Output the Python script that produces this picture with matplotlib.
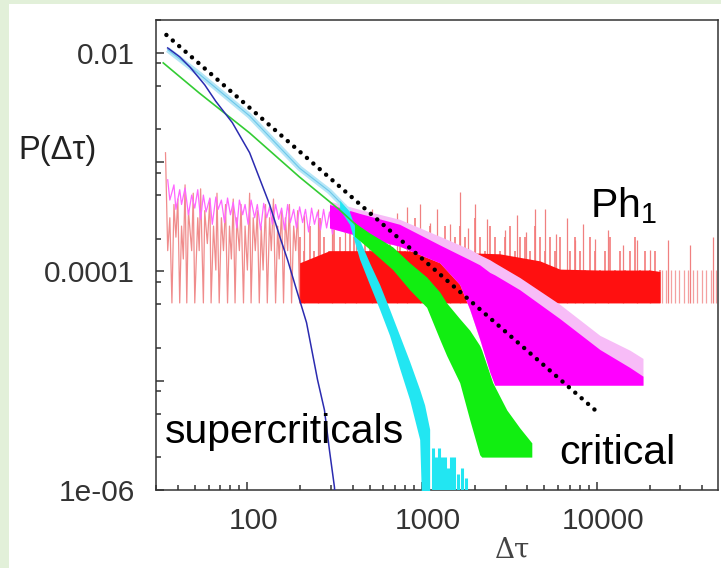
import numpy as np
import matplotlib
matplotlib.use("Agg")
import matplotlib.pyplot as plt
import matplotlib.transforms as mtransforms
from matplotlib.patches import Rectangle
from matplotlib.ticker import FixedLocator, LogLocator, FuncFormatter, NullFormatter

plt.rcParams['font.family'] = ['Liberation Sans', 'DejaVu Sans']
plt.rcParams['mathtext.fontset'] = 'custom'
plt.rcParams['mathtext.rm'] = 'Liberation Sans'
plt.rcParams['mathtext.it'] = 'Liberation Sans:italic'

# ---- data ----
# Ph1 (red): sparse zigzag on the left, dense band with spikes, sparse tail
red_floor = 5.15e-5
red_left_x = [34, 35, 36, 37, 38, 39, 40, 41, 42, 43, 44, 45, 46, 48, 49, 50, 52, 53, 54, 56,
              57, 59, 61, 62, 64, 66, 67, 69, 71, 73, 75, 77, 79, 81, 83, 85, 87, 90, 92, 95,
              97, 100, 103, 105, 108, 111, 114, 117, 120, 123, 127, 130, 134, 137, 141, 145,
              149, 152, 157, 161, 165, 170, 174, 179, 184, 189, 194, 199]
red_left_y = [1.22e-3, 1.55e-4, 3.1e-4, 5.15e-5, 4.1e-4, 2.06e-4, 4.6e-4, 5.15e-5,
              2.6e-4, 1.3e-4, 6.2e-4, 5.15e-5, 3.6e-4, 1.55e-4, 5.2e-4, 5.15e-5,
              3.1e-4, 1.55e-4, 5.7e-4, 5.15e-5, 3.6e-4, 1.8e-4, 4.6e-4, 5.15e-5,
              2.6e-4, 1.03e-4, 5.2e-4, 5.15e-5, 3.1e-4, 1.55e-4, 4.1e-4, 5.15e-5,
              2.6e-4, 1.3e-4, 4.6e-4, 5.15e-5, 3.1e-4, 1.55e-4, 4.1e-4, 5.15e-5,
              2.6e-4, 1.03e-4, 5.2e-4, 5.15e-5, 3.1e-4, 1.55e-4, 3.6e-4, 5.15e-5,
              2.6e-4, 1.03e-4, 4.1e-4, 5.15e-5, 3.1e-4, 1.55e-4, 4.6e-4, 5.15e-5,
              2.6e-4, 1.3e-4, 3.6e-4, 5.15e-5, 3.1e-4, 1.55e-4, 4.1e-4, 5.15e-5,
              2.6e-4, 1.55e-4, 3.6e-4, 5.15e-5]
red_band_x = [199, 295, 438, 743, 1437, 2780, 4714, 6137, 10400, 20120, 22960]
red_band_top = [1.2e-4, 1.55e-4, 1.55e-4, 1.55e-4, 1.5e-4, 1.45e-4, 1.25e-4, 1.05e-4,
                1.03e-4, 1.03e-4, 1.0e-4]
red_mid_x = [199, 212, 227, 242, 259, 276, 295, 315, 337, 360, 384, 410, 438, 468, 500,
             534, 571, 610, 651, 696, 743, 794, 848, 906, 968, 1033, 1104, 1179, 1260,
             1346, 1437, 1536, 1640, 1752, 1871, 1999, 2135, 2281, 2437, 2603, 2780, 2970,
             3173, 3389, 3620, 3867, 4130, 4412, 4714, 5035, 5378, 5745, 6137, 6556, 7003,
             7480, 7990, 8536, 9117, 9739, 10400, 11110, 11870, 12680, 13550, 14470, 15460,
             16510, 17640, 18840, 20120, 21500, 22960]
red_mid_y = [2.06e-4, 1.55e-4, 2.58e-4, 1.55e-4, 3.09e-4, 2.06e-4, 1.55e-4, 2.58e-4, 2.06e-4, 1.55e-4,
             2.58e-4, 2.06e-4, 1.55e-4, 3.09e-4, 2.06e-4, 1.55e-4, 2.58e-4, 2.06e-4, 2.06e-4, 1.55e-4,
             2.58e-4, 1.55e-4, 2.06e-4, 3.09e-4, 1.55e-4, 2.06e-4, 2.58e-4, 1.55e-4, 2.06e-4, 2.58e-4,
             1.55e-4, 2.06e-4, 2.58e-4, 2.06e-4, 1.55e-4, 3.09e-4, 2.06e-4, 1.55e-4, 2.58e-4, 2.06e-4,
             1.55e-4, 2.06e-4, 2.58e-4, 1.55e-4, 2.06e-4, 2.06e-4, 1.55e-4, 2.58e-4, 2.06e-4,
             1.55e-4, 2.06e-4, 1.55e-4, 2.06e-4, 1.03e-4, 1.55e-4, 2.06e-4, 1.55e-4, 1.03e-4, 2.06e-4, 1.55e-4,
             1.03e-4, 1.55e-4, 2.06e-4, 1.03e-4, 1.55e-4, 1.03e-4, 1.55e-4, 2.06e-4, 1.03e-4, 1.55e-4,
             1.03e-4, 1.55e-4, 1.03e-4]
red_spike_x = [212, 252, 303, 360, 416, 514, 610, 714, 815, 968, 1104, 1211, 1437, 1640,
               1823, 2000, 2342, 2970, 3479, 3919, 4413, 5035, 5821, 6733, 7480, 8314,
               9739, 11560, 14090, 16950, 20120, 25520, 34120, 46200]
red_spike_y = [3.3e-4, 3.7e-4, 3.0e-4, 4.1e-4, 3.3e-4, 3.7e-4, 3.0e-4, 3.4e-4, 3.9e-4,
               4.1e-4, 2.8e-4, 3.7e-4, 2.7e-4, 5.3e-4, 2.5e-4, 4.1e-4, 3.0e-4, 2.4e-4,
               3.3e-4, 2.3e-4, 3.7e-4, 3.7e-4, 2.2e-4, 3.1e-4, 1.95e-4, 2.7e-4, 2.0e-4,
               2.4e-4, 1.75e-4, 1.95e-4, 1.58e-4, 1.95e-4, 1.75e-4, 2.06e-4]
red_tail_x = [23580, 24860, 26550, 28000, 29530, 31520, 33230, 35490, 37410, 39960,
              42120, 45000, 48080]
red_tail_y = 1.03e-4

# magenta
mag_left_x = [35, 36, 38, 39, 41, 42, 44, 46, 48, 50, 52, 54, 56, 58, 61, 63, 66, 68, 71,
              74, 77, 80, 83, 87, 90, 94, 97, 101, 105, 110, 114, 119, 124, 129, 134, 139,
              145, 151, 157, 163, 170, 176, 184, 191, 199, 207, 215, 224, 233, 242, 252,
              262, 273, 284, 295, 307, 319, 332, 346, 360, 374]
mag_left_y = [6.9e-4, 4.5e-4, 6.2e-4, 3.7e-4, 5.6e-4, 4.1e-4, 5.8e-4, 3.3e-4, 5.0e-4,
              3.8e-4, 5.6e-4, 3.0e-4, 5.0e-4, 3.5e-4, 4.7e-4, 2.7e-4, 4.8e-4, 3.7e-4,
              4.5e-4, 2.8e-4, 4.7e-4, 3.3e-4, 4.3e-4, 2.5e-4, 4.5e-4, 3.3e-4, 4.1e-4,
              2.7e-4, 4.5e-4, 3.1e-4, 4.1e-4, 2.4e-4, 4.2e-4, 3.1e-4, 3.9e-4, 2.7e-4,
              4.1e-4, 3.0e-4, 3.8e-4, 2.4e-4, 4.1e-4, 2.8e-4, 3.7e-4, 2.5e-4, 3.9e-4,
              2.8e-4, 3.7e-4, 2.3e-4, 3.8e-4, 2.7e-4, 3.5e-4, 2.4e-4, 3.7e-4, 2.5e-4,
              3.5e-4, 2.2e-4, 3.7e-4, 2.5e-4, 3.4e-4, 2.3e-4, 3.5e-4]
mag_band_x = [295, 438, 743, 1260, 1640, 1871, 2135, 2437, 2603, 3620, 6137, 10400, 15460, 18350]
mag_band_top = [4.1e-4, 3.4e-4, 2.7e-4, 1.75e-4, 1.42e-4, 1.28e-4, 1.15e-4, 9.8e-5, 9.3e-5,
                6.8e-5, 3.7e-5, 1.93e-5, 1.32e-5, 1.1e-5]
mag_band_pale = [4.4e-4, 3.7e-4, 3.0e-4, 2.1e-4, 1.75e-4, 1.6e-4, 1.42e-4, 1.28e-4, 1.2e-4,
                 8.8e-5, 5.0e-5, 2.6e-5, 1.9e-5, 1.6e-5]
mag_band_bottom = [2.5e-4, 2.1e-4, 1.7e-4, 1.2e-4, 7.6e-5, 4.5e-5, 2.4e-5, 1.2e-5, 9.1e-6,
                   9.1e-6, 9.1e-6, 9.1e-6, 9.1e-6, 9.1e-6]

# green (critical)
green_x = [33, 53, 103, 199, 337, 438]
green_y = [8.1e-3, 4.3e-3, 1.85e-3, 7.3e-4, 3.66e-4, 2.5e-4]
green_band_x = [410, 500, 678, 848, 1061, 1260, 1381, 1640, 1871, 2135, 2193, 2535, 3050, 3620, 4241]
green_band_top = [2.8e-4, 2.25e-4, 1.68e-4, 1.2e-4, 8.9e-5, 6.5e-5, 5.15e-5, 3.7e-5, 2.9e-5,
                  2.1e-5, 1.9e-5, 9.6e-6, 5.4e-6, 3.7e-6, 2.7e-6]
green_band_bottom = [2.1e-4, 1.6e-4, 1.04e-4, 6.8e-5, 4.7e-5, 2.4e-5, 1.7e-5, 9.6e-6, 4.4e-6,
                     2.1e-6, 2.0e-6, 2.0e-6, 2.0e-6, 2.0e-6, 2.0e-6]

# cyan (supercritical)
cyan_x = [35, 53, 103, 199, 295, 384]
cyan_y = [1.07e-2, 6.4e-3, 2.65e-3, 8.8e-4, 5.4e-4, 3.5e-4]
cyan_band_x = [337, 384, 438, 500, 571, 651, 743, 848, 968, 1033, 1104]
cyan_band_top = [4.5e-4, 3.5e-4, 1.95e-4, 1.2e-4, 7.6e-5, 4.5e-5, 2.6e-5, 1.5e-5, 8.3e-6,
                 6.0e-6, 3.6e-6]
cyan_band_bottom = [3.7e-4, 2.7e-4, 1.3e-4, 7.6e-5, 4.5e-5, 2.6e-5, 1.3e-5, 6.7e-6, 2.9e-6,
                    1e-7, 1e-7]
cyan_tail_x = [1149, 1195, 1243, 1293, 1345, 1400, 1457, 1515, 1597, 1684, 1776]
cyan_tail_y = [2.4e-6, 2.0e-6, 2.4e-6, 2.0e-6, 2.0e-6, 1.6e-6, 2.0e-6, 2.0e-6, 1.4e-6,
               1.6e-6, 1.3e-6]

# blue (supercritical)
blue_x = [35, 41, 47, 57, 66, 82, 103, 117, 134, 153, 170, 191, 218, 252, 276, 295, 315, 318]
blue_y = [1.11e-2, 9.2e-3, 7.4e-3, 5.1e-3, 3.6e-3, 2.3e-3, 1.22e-3, 7.2e-4, 4.1e-4, 2.1e-4,
          1.27e-4, 6.8e-5, 3.4e-5, 1.02e-5, 5.4e-6, 2.3e-6, 1.06e-6, 8e-7]

# power-law guide
dot_x = [34.4, 9750]
dot_y = [0.0146, 5.4e-6]

y_labels = {1e-2: '0.01', 1e-4: '0.0001', 1e-6: '1e-06'}

# ---- figure ----
W, H = 721, 568
fig = plt.figure(figsize=(W / 100, H / 100), dpi=100)
fig.patch.set_facecolor('#e2f0d9')
fig.patches.append(Rectangle((9 / W, 0), 1 - 9 / W, 1 - 4 / H, transform=fig.transFigure,
                             facecolor='white', edgecolor='none', zorder=-1))
ax = fig.add_axes([156 / W, 78 / H, 562 / W, 470 / H])
ax.set_xscale('log')
ax.set_yscale('log')

# red
ax.plot(red_left_x, red_left_y, color='#f08c8c', lw=0.9, zorder=1)
ax.vlines(red_spike_x, red_floor, red_spike_y, color='#f08080', lw=0.9, zorder=1)
ax.vlines(red_mid_x, red_floor, red_mid_y, color='#f47a7a', lw=1.2, zorder=1)
ax.vlines(red_tail_x, red_floor, red_tail_y, color='#f4a0a0', lw=0.9, zorder=1)
ax.fill_between(red_band_x, red_floor, red_band_top, color='#ff1010', lw=0, zorder=2)

# magenta
ax.plot(mag_left_x, mag_left_y, color='#ff66ff', lw=0.9, zorder=3)
ax.fill_between(mag_band_x, mag_band_bottom, mag_band_pale, color='#f7bcf7', lw=0, zorder=3)
ax.fill_between(mag_band_x, mag_band_bottom, mag_band_top, color='#ff00ff', lw=0, zorder=4)

# cyan
ax.plot(cyan_x, cyan_y, color='#b5e6f7', lw=4, solid_capstyle='butt', zorder=5)
ax.plot(cyan_x, cyan_y, color='#6cc8ea', lw=0.8, zorder=5)
ax.fill_between(cyan_band_x, cyan_band_bottom, cyan_band_top, color='#22e6f2', lw=0, zorder=5)
ax.vlines(cyan_tail_x, 1e-7, cyan_tail_y, color='#22e6f2', lw=2.2, zorder=5)

# green
ax.plot(green_x, green_y, color='#33cc33', lw=1.2, zorder=6)
ax.fill_between(green_band_x, green_band_bottom, green_band_top, color='#11ee11', lw=0, zorder=6)

# blue
ax.plot(blue_x, blue_y, color='#2b2bb0', lw=1.1, zorder=7)

# dotted guide
ax.plot(dot_x, dot_y, color='black', lw=3.2, linestyle=(0, (0.01, 1.9)),
        dash_capstyle='round', zorder=8)

ax.set_xlim(30, 49300)
ax.set_ylim(1e-6, 0.02)

ax.xaxis.set_major_locator(FixedLocator([100, 1000, 10000]))
ax.xaxis.set_minor_locator(LogLocator(base=10, subs=np.arange(2, 10), numticks=50))
ax.xaxis.set_major_formatter(FuncFormatter(lambda v, p: f'{v:.0f}'))
ax.xaxis.set_minor_formatter(NullFormatter())
ax.yaxis.set_major_locator(FixedLocator([1e-6, 1e-5, 1e-4, 1e-3, 1e-2]))
ax.yaxis.set_minor_locator(LogLocator(base=10, subs=[2, 5, 8], numticks=50))
ax.yaxis.set_major_formatter(FuncFormatter(lambda v, p: y_labels.get(v, '')))
ax.yaxis.set_minor_formatter(NullFormatter())

ax.tick_params(which='both', direction='in', top=False, right=False, color='#333333',
               width=1.1, labelsize=21.5, labelcolor='#333333')
ax.tick_params(which='major', length=5.5)
ax.tick_params(which='minor', length=3.5)
ax.tick_params(axis='y', pad=15)
ax.tick_params(axis='x', pad=12)
for s in ax.spines.values():
    s.set_color('#333333')
    s.set_linewidth(1.1)

shift = mtransforms.ScaledTranslation(0.06, 0, fig.dpi_scale_trans)
for lab in ax.get_xticklabels():
    lab.set_transform(lab.get_transform() + shift)

# labels
fig.text(57 / W, 1 - 150 / H, 'P(Δτ)', fontsize=23.5, ha='center', va='center', color='#222222')
fig.text(513 / W, 1 - 550 / H, 'Δτ', family='DejaVu Serif', fontsize=20, ha='center',
         va='center', color='#444444')
fig.text(165 / W, 1 - 443 / H, 'supercriticals', fontsize=29.5, ha='left', va='baseline')
fig.text(559 / W, 1 - 464 / H, 'critical', fontsize=29.5, ha='left', va='baseline')
fig.text(590 / W, 1 - 217 / H, r'Ph$_1$', fontsize=29.5, ha='left', va='baseline')

fig.savefig('out.png', dpi=100, facecolor=fig.get_facecolor())
